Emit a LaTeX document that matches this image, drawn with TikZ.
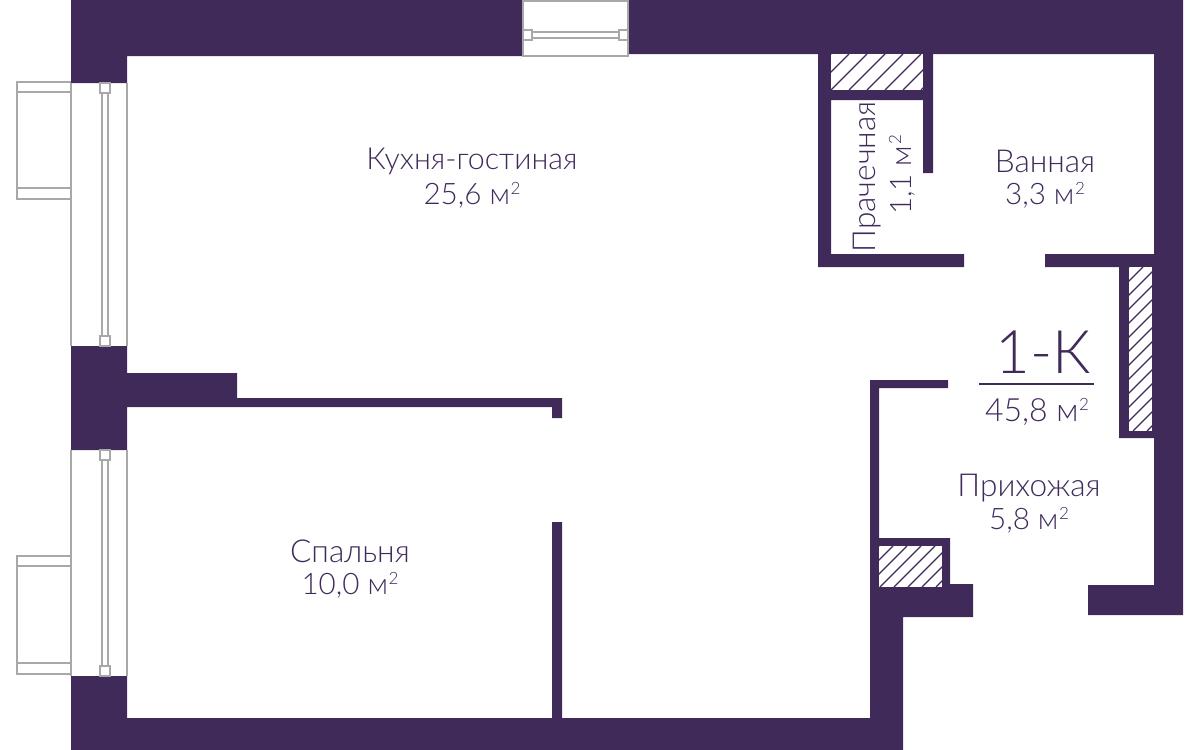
\documentclass[tikz,border=0pt]{standalone}
\usepackage{fontspec}
\setmainfont{Lato Light}
\definecolor{wallcol}{HTML}{3F2A5A}
\definecolor{framecol}{HTML}{A8A8A8}
\newcommand{\sqm}{м\kern0.3pt\raisebox{0.68ex}{\fontsize{8.5}{8.5}\selectfont 2}}
\newcommand{\hatchbox}[5]{
  \begin{scope}
    \clip (#1,#2) rectangle (#3,#4);
    \foreach \hi in {0,...,30} {
      \draw [hatch] (#1+\hi*#5-#4+#2,#4) -- ++(#4-#2,#2-#4);
    }
  \end{scope}
}
\begin{document}
\begin{tikzpicture}[x=0.5pt, y=-0.5pt]
\tikzset{
  wall/.style={fill=wallcol},
  frame/.style={draw=framecol, line width=0.6pt},
  hatch/.style={draw=wallcol, line width=0.6pt},
  label/.style={text=wallcol, font=\fontsize{15.8}{17}\selectfont, inner sep=0pt},
  area/.style={text=wallcol, font=\fontsize{14.8}{16}\selectfont, inner sep=0pt},
}
\useasboundingbox (0,0) rectangle (1200,750);

% walls
\fill [wall] (71,0) -- (523,0) -- (523,56) -- (127,56) -- (127,83) -- (71,83) -- cycle;
\fill [wall] (628,0) -- (1183,0) -- (1183,615) -- (1088,615) -- (1088,585) -- (1154,585) -- (1154,54) -- (628,54) -- cycle;
\fill [wall] (71,346) -- (127,346) -- (127,373) -- (237,373) -- (237,398) -- (562,398) -- (562,418) -- (552,418) -- (552,407) -- (127,407) -- (127,450) -- (71,450) -- cycle;
\fill [wall] (71,676) -- (127,676) -- (127,718) -- (552,718) -- (552,522) -- (562,522) -- (562,718) -- (870,718) -- (870,380) -- (948,380) -- (948,388) -- (879,388) -- (879,538) -- (950,538) -- (950,584) -- (973,584) -- (973,617) -- (903,617) -- (903,750) -- (71,750) -- cycle;
\fill [wall] (818,54) -- (933,54) -- (933,173) -- (923,173) -- (923,100) -- (831,100) -- (831,254) -- (964,254) -- (964,267) -- (818,267) -- cycle;
\fill [wall] (1045,254) -- (1154,254) -- (1154,438) -- (1119,438) -- (1119,267) -- (1045,267) -- cycle;

% hatched ducts
\fill [wall] (1129,267) rectangle (1154,431);
\fill [white] (831,54) rectangle (923,90);
\fill [white] (879,546) rectangle (942,587);
\fill [white] (1129,267) rectangle (1152,431);
\hatchbox{831}{54}{923}{90}{18}
\hatchbox{879}{546}{942}{587}{14}
\hatchbox{1129}{267}{1152}{431}{14}

% top window
\draw [frame] (523,1) rectangle (628,56);
\draw [frame] (532,32) rectangle (619,38);
\draw [frame] (523,30) rectangle (532,40);
\draw [frame] (619,30) rectangle (628,40);

% left windows, with their balconies
\foreach \ya/\yb/\ba/\bb/\bc/\bd in {83/346/82/92/188/199, 450/676/556/566/663/674} {
  \draw [frame] (71,\ya) -- (71,\yb);
  \draw [frame] (127,\ya) -- (127,\yb);
  \draw [frame] (102,\ya) -- (102,\yb);
  \draw [frame] (108,\ya) -- (108,\yb);
  \draw [frame, fill=white] (100,\ya) rectangle (110,\ya+10);
  \draw [frame, fill=white] (100,\yb-10) rectangle (110,\yb);
  \draw [frame] (71,\ba) -- (17,\ba) -- (17,\bd) -- (71,\bd);
  \draw [frame] (17,\bb) -- (71,\bb);
  \draw [frame] (17,\bc) -- (71,\bc);
}

% room names
\node [label, font=\fontsize{15.2}{17}\selectfont] (kitchen) at (472,161) {Кухня-гостиная};
\node [area] (kitchenarea) at (472,195) {25,6 \sqm};
\node [label] (bath) at (1045,161) {Ванная};
\node [area] (batharea) at (1045,195) {3,3 \sqm};
\node [label] (bedroom) at (350,551) {Спальня};
\node [area] (bedroomarea) at (350,585) {10,0 \sqm};
\node [label] (hall) at (1029,488) {Прихожая};
\node [area] (hallarea) at (1029,520) {5,8 \sqm};
\node [label, rotate=90] (laundry) at (867,177) {Прачечная};
\node [area, rotate=90] (laundryarea) at (902,175) {1,1 \sqm};

% flat type
\node [label, font=\fontsize{30}{32}\selectfont] (flat) at (1043,352) {1-К};
\node [area, font=\fontsize{16}{18}\selectfont] (flatarea) at (1037,412) {45,8 \sqm};
\coordinate (ruleL) at (979,384);
\coordinate (ruleR) at (1094,384);
\draw [wallcol, line width=1pt] (ruleL) -- (ruleR);

\end{tikzpicture}
\end{document}
